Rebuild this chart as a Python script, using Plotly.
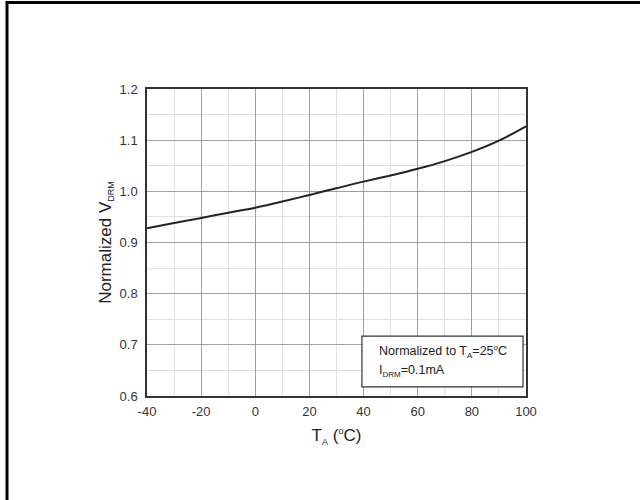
import plotly.graph_objects as go

temps = [-40, -30, -20, -10, 0, 10, 20, 30, 40, 50, 60, 70, 80, 90, 100]
v_norm = [0.928, 0.938, 0.948, 0.958, 0.968, 0.980, 0.993, 1.006, 1.019, 1.031, 1.044, 1.059, 1.077, 1.099, 1.127]

x_ticks = [-40, -20, 0, 20, 40, 60, 80, 100]
y_ticks = [0.6, 0.7, 0.8, 0.9, 1.0, 1.1, 1.2]

FONT = "Liberation Sans, Arial, sans-serif"

fig = go.Figure()
fig.add_trace(go.Scatter(x=temps, y=v_norm, mode="lines",
                         line=dict(color="#222222", width=2, shape="spline", smoothing=1.0),
                         showlegend=False, hoverinfo="skip"))

axis_common = dict(showline=True, mirror=True, linecolor="#333333", linewidth=1.5,
                   ticks="", showgrid=True, gridcolor="#a0a0a0", gridwidth=1,
                   zeroline=False, tickfont=dict(family=FONT, size=13, color="#333333"))

fig.update_xaxes(range=[-40, 100], tickvals=x_ticks, ticktext=[str(t) for t in x_ticks],
                 ticklabelstandoff=3,
                 minor=dict(dtick=10, tick0=-40, showgrid=True, gridcolor="#e0e0e0", gridwidth=1),
                 title=dict(text="T<sub><span style='font-size:9px'>A</span></sub> (<sup><span style='font-size:9px'>o</span></sup>C)",
                            font=dict(family=FONT, size=17, color="#222222"), standoff=11),
                 **axis_common)
fig.update_yaxes(range=[0.6, 1.2], tickvals=y_ticks, ticktext=[f"{t:.1f}" for t in y_ticks],
                 ticklabelstandoff=5,
                 minor=dict(dtick=0.05, tick0=0.6, showgrid=True, gridcolor="#e0e0e0", gridwidth=1),
                 title=dict(text="Normalized V<sub><span style='font-size:9px'>DRM</span></sub>",
                            font=dict(family=FONT, size=17, color="#222222"), standoff=4),
                 **axis_common)

# annotation box
fig.add_shape(type="rect", xref="x", yref="y", x0=39.4, x1=98.9, y0=0.618, y1=0.717,
              line=dict(color="#333333", width=1.2), fillcolor="white", layer="above")
fig.add_annotation(xref="x", yref="y", x=45.0, y=0.687, xanchor="left", yanchor="middle",
                   text="Normalized to T<sub><span style='font-size:8px'>A</span></sub>=25<sup><span style='font-size:8px'>o</span></sup>C",
                   showarrow=False, font=dict(family=FONT, size=12.5, color="#222222"))
fig.add_annotation(xref="x", yref="y", x=45.0, y=0.648, xanchor="left", yanchor="middle",
                   text="I<sub><span style='font-size:8px'>DRM</span></sub>=0.1mA",
                   showarrow=False, font=dict(family=FONT, size=12.5, color="#222222"))

# outer frame (top and left edges)
fig.add_shape(type="path", xref="paper", yref="paper",
              path="M -0.3694,-0.36 L -0.3694,1.2818 L 1.32,1.2818",
              line=dict(color="black", width=3), layer="above")

fig.update_layout(width=640, height=500, margin=dict(l=147, r=114, t=89, b=104),
                  paper_bgcolor="white", plot_bgcolor="white",
                  font=dict(family=FONT))

fig.write_html("out.html", config={"displayModeBar": False},
               post_script="document.body.style.margin='0';")
